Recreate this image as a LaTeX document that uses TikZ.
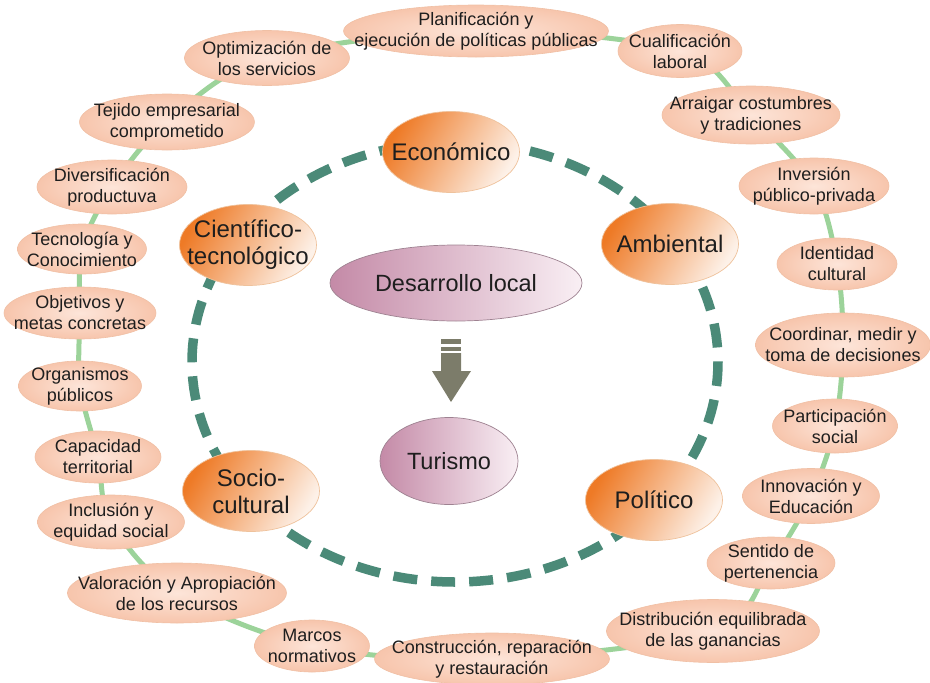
\documentclass[tikz,border=0pt]{standalone}
\usepackage{fontspec}
\setmainfont{Liberation Sans}
\usetikzlibrary{shapes.geometric}
\pgfdeclarelayer{bg}
\pgfsetlayers{bg,main}
\definecolor{salin}{HTML}{FDE5D9}
\definecolor{salout}{HTML}{F7C5AC}
\definecolor{salline}{HTML}{F0C0A5}
\definecolor{orng}{HTML}{EE7A26}
\definecolor{orlight}{HTML}{FDF1E8}
\definecolor{orline}{HTML}{EFC29C}
\definecolor{purp}{HTML}{C48AA7}
\definecolor{purlight}{HTML}{F9EFF4}
\definecolor{purline}{HTML}{9E8291}
\definecolor{ringcol}{HTML}{4B8A78}
\definecolor{loopgreen}{HTML}{9CD39A}
\definecolor{arrowcol}{HTML}{7C7C6A}
\definecolor{txt}{HTML}{1E1E1E}
\begin{document}
\begin{tikzpicture}[x=1pt,y=-1pt,
  salm/.style={ellipse, draw=salline, line width=0.6pt, inner color=salin, outer color=salout, inner sep=0pt},
  saltext/.style={align=center, inner sep=0pt, text=txt, font=\fontsize{18}{21}\selectfont},
  dimnode/.style={ellipse, draw=orline, line width=0.7pt, top color=orng, bottom color=orlight, shading angle=60, minimum width=137pt, minimum height=81pt, inner sep=0pt},
  dimtext/.style={align=center, inner sep=0pt, text=txt, font=\fontsize{24}{27}\selectfont},
  cennode/.style={ellipse, draw=purline, line width=0.7pt, left color=purp, right color=purlight, inner sep=0pt},
  centext/.style={inner sep=0pt, text=txt, font=\fontsize{23.5}{27}\selectfont},
  ring/.style={draw=ringcol, line width=9.5pt, dash pattern=on 24pt off 14pt},
  loopline/.style={draw=loopgreen, line width=5pt},
]
\useasboundingbox (0,0) rectangle (930,683);

% outer ring of salmon nodes
\node[salm, minimum width=265pt, minimum height=52pt] (plan) at (476,31) {};
\node[saltext] (planT) at (plan) {Planificación y\\ejecución de políticas públicas};
\node[salm, minimum width=124pt, minimum height=53pt] (cual) at (680,51) {};
\node[saltext] (cualT) at (cual) {Cualificación\\laboral};
\node[salm, minimum width=178pt, minimum height=58pt] (arra) at (751,115) {};
\node[saltext] (arraT) at (arra) {Arraigar costumbres\\y tradiciones};
\node[salm, minimum width=150pt, minimum height=56pt] (inve) at (814,186) {};
\node[saltext] (inveT) at (inve) {Inversión\\público-privada};
\node[salm, minimum width=120pt, minimum height=52pt] (iden) at (837,264) {};
\node[saltext] (idenT) at (iden) {Identidad\\cultural};
\node[salm, minimum width=175pt, minimum height=64pt] (coor) at (843,345) {};
\node[saltext] (coorT) at (coor) {Coordinar, medir y\\toma de decisiones};
\node[salm, minimum width=125pt, minimum height=54pt] (part) at (835,426) {};
\node[saltext] (partT) at (part) {Participación\\social};
\node[salm, minimum width=137pt, minimum height=55pt] (inno) at (811,496) {};
\node[saltext] (innoT) at (inno) {Innovación y\\Educación};
\node[salm, minimum width=128pt, minimum height=52pt] (sent) at (771,563) {};
\node[saltext] (sentT) at (sent) {Sentido de\\pertenencia};
\node[salm, minimum width=213pt, minimum height=63pt] (dist) at (713,631) {};
\node[saltext] (distT) at (dist) {Distribución equilibrada\\de las ganancias};
\node[salm, minimum width=235pt, minimum height=52pt] (cons) at (492,659) {};
\node[saltext] (consT) at (cons) {Construcción, reparación\\y restauración};
\node[salm, minimum width=115pt, minimum height=52pt] (marc) at (312,646) {};
\node[saltext] (marcT) at (marc) {Marcos\\normativos};
\node[salm, minimum width=219pt, minimum height=60pt] (valo) at (177,593) {};
\node[saltext] (valoT) at (valo) {Valoración y Apropiación\\de los recursos};
\node[salm, minimum width=147pt, minimum height=54pt] (incl) at (111,522) {};
\node[saltext] (inclT) at (incl) {Inclusión y\\equidad social};
\node[salm, minimum width=126pt, minimum height=52pt] (capa) at (98,457) {};
\node[saltext] (capaT) at (capa) {Capacidad\\territorial};
\node[salm, minimum width=123pt, minimum height=50pt] (orga) at (80,386) {};
\node[saltext] (orgaT) at (orga) {Organismos\\públicos};
\node[salm, minimum width=152pt, minimum height=52pt] (obje) at (80,313) {};
\node[saltext] (objeT) at (obje) {Objetivos y\\metas concretas};
\node[salm, minimum width=129pt, minimum height=50pt] (tecn) at (82,249) {};
\node[saltext] (tecnT) at (tecn) {Tecnología y\\Conocimiento};
\node[salm, minimum width=150pt, minimum height=54pt] (dive) at (112,187) {};
\node[saltext] (diveT) at (dive) {Diversificación\\productuva};
\node[salm, minimum width=175pt, minimum height=56pt] (teji) at (167,122) {};
\node[saltext] (tejiT) at (teji) {Tejido empresarial\\comprometido};
\node[salm, minimum width=165pt, minimum height=55pt] (opti) at (267,58) {};
\node[saltext] (optiT) at (opti) {Optimización de\\los servicios};

% dimensions
\node[dimnode] (econ) at (451,152) {};
\node[dimtext] (econT) at (econ) {Económico};
\node[dimnode] (cien) at (248,245) {};
\node[dimtext] (cienT) at (cien) {Científico-\\tecnológico};
\node[dimnode] (ambi) at (670,244) {};
\node[dimtext] (ambiT) at (ambi) {Ambiental};
\node[dimnode] (soci) at (251,491) {};
\node[dimtext] (sociT) at (soci) {Socio-\\cultural};
\node[dimnode] (poli) at (654,500) {};
\node[dimtext] (poliT) at (poli) {Político};

% centre
\node[cennode, minimum width=252pt, minimum height=76pt] (dev) at (456,283) {};
\node[centext] (devT) at (dev) {Desarrollo local};
\node[cennode, minimum width=138pt, minimum height=87pt] (tur) at (449,461) {};
\node[centext] (turT) at (tur) {Turismo};

% block arrow
\fill[arrowcol] (441,339) rectangle (461,344);
\fill[arrowcol] (441,347) rectangle (461,351);
\fill[arrowcol] (441,353) -- (461,353) -- (461,371) -- (471,371) -- (451,402) -- (432,371) -- (441,371) -- cycle;

\begin{pgfonlayer}{bg}
\draw[ring] (455,362) ellipse [x radius=263, y radius=220];
\draw[loopline] plot[smooth cycle, tension=0.55] coordinates {(plan.center) (cual.center) (arra.center) (inve.center) (iden.center) (coor.center) (part.center) (inno.center) (sent.center) (dist.center) (cons.center) (marc.center) (valo.center) (incl.center) (capa.center) (orga.center) (obje.center) (tecn.center) (dive.center) (teji.center) (opti.center)};
\end{pgfonlayer}
\end{tikzpicture}
\end{document}
